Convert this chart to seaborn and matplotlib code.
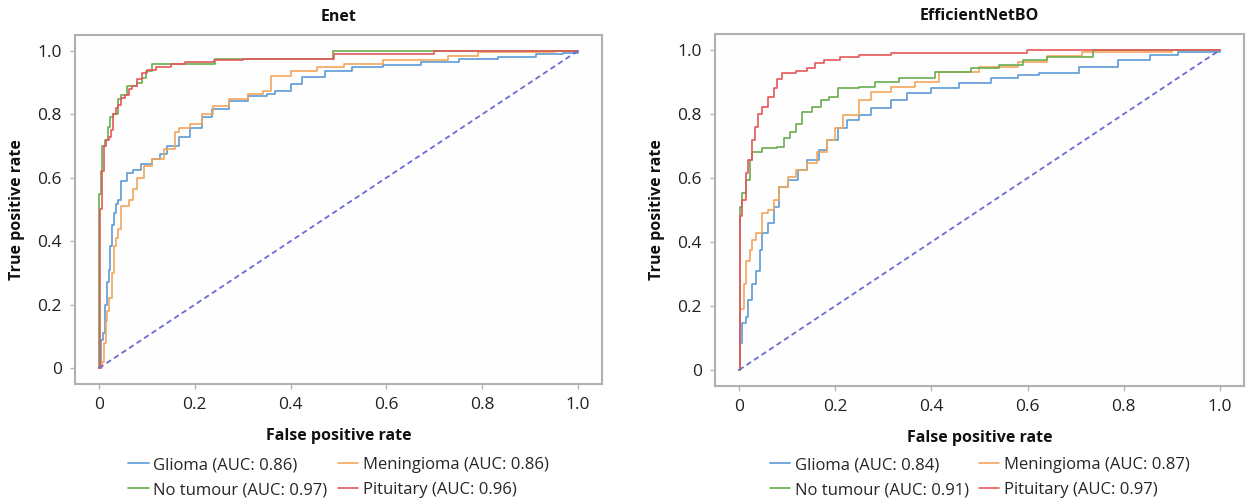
import matplotlib
matplotlib.use("Agg")
import matplotlib.pyplot as plt
import seaborn as sns

# ROC curves: (false positive rate, true positive rate) at the start of each plateau
# ---- Enet ----
enet_glioma_fpr = [0, 0.004, 0.008, 0.012, 0.017, 0.02, 0.023, 0.028, 0.031, 0.035, 0.039, 0.047, 0.059, 0.071,
                   0.087, 0.111, 0.127, 0.143, 0.167, 0.191, 0.215, 0.235, 0.271, 0.311, 0.351, 0.367, 0.40,
                   0.424, 0.472, 0.528, 0.592, 0.672, 0.752, 0.832, 0.912, 0.968, 1.0]
enet_glioma_tpr = [0, 0.09, 0.11, 0.2, 0.27, 0.31, 0.384, 0.45, 0.49, 0.516, 0.53, 0.59, 0.616, 0.625,
                   0.642, 0.658, 0.674, 0.70, 0.73, 0.758, 0.79, 0.816, 0.843, 0.859, 0.864, 0.874, 0.896,
                   0.917, 0.938, 0.948, 0.954, 0.964, 0.975, 0.98, 0.99, 0.994, 1.0]

enet_menin_fpr = [0, 0.006, 0.01, 0.014, 0.017, 0.022, 0.027, 0.031, 0.035, 0.039, 0.047, 0.063, 0.071, 0.079,
                  0.095, 0.111, 0.135, 0.159, 0.167, 0.191, 0.215, 0.239, 0.271, 0.311, 0.343, 0.359, 0.40,
                  0.456, 0.512, 0.592, 0.728, 0.792, 0.952, 1.0]
enet_menin_tpr = [0, 0.02, 0.08, 0.15, 0.18, 0.22, 0.3, 0.384, 0.41, 0.437, 0.51, 0.53, 0.563, 0.60,
                  0.637, 0.658, 0.69, 0.743, 0.758, 0.769, 0.80, 0.827, 0.848, 0.864, 0.874, 0.922, 0.938,
                  0.948, 0.959, 0.97, 0.985, 0.996, 1.0, 1.0]

enet_notum_fpr = [0, 0.001, 0.004, 0.007, 0.012, 0.019, 0.023, 0.03, 0.039, 0.047, 0.059, 0.07, 0.079, 0.09,
                  0.099, 0.111, 0.243, 0.488, 1.0]
enet_notum_tpr = [0, 0.55, 0.62, 0.70, 0.72, 0.76, 0.79, 0.80, 0.848, 0.86, 0.888, 0.89, 0.90, 0.915,
                  0.935, 0.96, 0.975, 1.0, 1.0]

enet_pitu_fpr = [0, 0.003, 0.006, 0.01, 0.015, 0.02, 0.025, 0.03, 0.035, 0.04, 0.047, 0.055, 0.062, 0.07,
                 0.079, 0.09, 0.1, 0.12, 0.15, 0.18, 0.24, 0.3, 0.49, 0.7, 1.0]
enet_pitu_tpr = [0, 0.5, 0.62, 0.70, 0.72, 0.73, 0.75, 0.80, 0.82, 0.83, 0.85, 0.86, 0.88, 0.89,
                 0.91, 0.93, 0.94, 0.95, 0.96, 0.965, 0.97, 0.975, 0.99, 1.0, 1.0]

# ---- EfficientNetBO ----
eff_glioma_fpr = [0, 0.002, 0.006, 0.014, 0.018, 0.027, 0.035, 0.043, 0.047, 0.06, 0.072, 0.084, 0.101, 0.122,
                  0.142, 0.167, 0.184, 0.205, 0.225, 0.25, 0.275, 0.316, 0.349, 0.399, 0.457, 0.523, 0.581,
                  0.623, 0.706, 0.788, 0.855, 0.913, 1.0]
eff_glioma_tpr = [0, 0.083, 0.146, 0.167, 0.219, 0.27, 0.31, 0.375, 0.427, 0.458, 0.51, 0.573, 0.594, 0.625,
                  0.656, 0.688, 0.719, 0.755, 0.78, 0.797, 0.818, 0.844, 0.865, 0.88, 0.896, 0.911, 0.922,
                  0.927, 0.948, 0.969, 0.984, 0.995, 1.0]

eff_menin_fpr = [0, 0.002, 0.01, 0.014, 0.022, 0.027, 0.035, 0.047, 0.06, 0.072, 0.084, 0.101, 0.118, 0.142,
                 0.163, 0.184, 0.2, 0.217, 0.25, 0.275, 0.316, 0.366, 0.416, 0.5, 0.581, 0.64, 0.714, 0.9, 1.0]
eff_menin_tpr = [0, 0.19, 0.27, 0.34, 0.375, 0.406, 0.427, 0.49, 0.5, 0.53, 0.573, 0.604, 0.625, 0.646,
                 0.68, 0.719, 0.755, 0.797, 0.844, 0.87, 0.885, 0.90, 0.932, 0.948, 0.964, 0.98, 0.995, 1.0, 1.0]

eff_notum_fpr = [0, 0.002, 0.006, 0.014, 0.022, 0.027, 0.047, 0.08, 0.093, 0.105, 0.118, 0.13, 0.151, 0.171,
                 0.188, 0.205, 0.25, 0.283, 0.333, 0.407, 0.482, 0.54, 0.59, 0.64, 0.735, 1.0]
eff_notum_tpr = [0, 0.51, 0.552, 0.594, 0.656, 0.68, 0.693, 0.698, 0.724, 0.745, 0.77, 0.807, 0.823, 0.844,
                 0.854, 0.88, 0.883, 0.90, 0.911, 0.932, 0.943, 0.953, 0.969, 0.977, 1.0, 1.0]

eff_pitu_fpr = [0, 0.002, 0.006, 0.014, 0.018, 0.027, 0.033, 0.039, 0.047, 0.06, 0.072, 0.08, 0.089, 0.118,
                0.142, 0.159, 0.176, 0.209, 0.25, 0.316, 0.598, 1.0]
eff_pitu_tpr = [0, 0.48, 0.53, 0.615, 0.656, 0.72, 0.76, 0.80, 0.823, 0.854, 0.88, 0.91, 0.927, 0.935,
                0.943, 0.958, 0.969, 0.977, 0.984, 0.992, 1.0, 1.0]

chance_fpr = [0, 1]
chance_tpr = [0, 1]

panel_titles = ["Enet", "EfficientNetBO"]
class_names = ["Glioma", "Meningioma", "No tumour", "Pituitary"]
auc_enet = [0.86, 0.86, 0.97, 0.96]
auc_eff = [0.84, 0.87, 0.91, 0.97]
tick_values = [0, 0.2, 0.4, 0.6, 0.8, 1.0]
tick_labels = ["0", "0.2", "0.4", "0.6", "0.8", "1.0"]

class_colors = ["#5b9bd5", "#f2a65a", "#6aad4f", "#e5575a"]
chance_color = "#6b6bd6"

sns.set_theme(style="white")
plt.rcParams["font.family"] = ["Open Sans", "DejaVu Sans"]

fig = plt.figure(figsize=(12.46, 5.04), dpi=100)
ax_left = fig.add_axes([0.0602, 0.2381, 0.4229, 0.6925])
ax_right = fig.add_axes([0.5738, 0.2341, 0.4246, 0.6984])

panels = [
    (ax_left, panel_titles[0], auc_enet,
     [(enet_glioma_fpr, enet_glioma_tpr), (enet_menin_fpr, enet_menin_tpr),
      (enet_notum_fpr, enet_notum_tpr), (enet_pitu_fpr, enet_pitu_tpr)]),
    (ax_right, panel_titles[1], auc_eff,
     [(eff_glioma_fpr, eff_glioma_tpr), (eff_menin_fpr, eff_menin_tpr),
      (eff_notum_fpr, eff_notum_tpr), (eff_pitu_fpr, eff_pitu_tpr)]),
]

for ax, title, aucs, curves in panels:
    for name, auc, color, (fpr, tpr) in zip(class_names, aucs, class_colors, curves):
        sns.lineplot(x=fpr, y=tpr, ax=ax, color=color, linewidth=1.2,
                     estimator=None, sort=False, drawstyle="steps-post",
                     label=f"{name} (AUC: {auc:.2f})")
    sns.lineplot(x=chance_fpr, y=chance_tpr, ax=ax, color=chance_color, linewidth=1.3,
                 linestyle=(0, (3, 2)), estimator=None, sort=False)

    ax.set_xlim(-0.05, 1.05)
    ax.set_ylim(-0.05, 1.05)
    ax.set_xticks(tick_values)
    ax.set_xticklabels(tick_labels)
    ax.set_yticks(tick_values)
    ax.set_yticklabels(tick_labels)
    ax.tick_params(axis="both", which="major", length=3.5, width=1.0, color="#b5b5b5",
                   pad=6, labelsize=12.5, labelcolor="#222222", direction="out",
                   bottom=True, left=True)
    for side in ["left", "right", "top", "bottom"]:
        ax.spines[side].set_visible(True)
        ax.spines[side].set_color("#b0b0b0")
        ax.spines[side].set_linewidth(1.5)
    ax.set_facecolor("#fefefe")

    ax.set_title(title, fontsize=11.5, fontweight="bold", pad=10, color="#111111")
    ax.set_xlabel("False positive rate", fontsize=11.5, fontweight="bold", labelpad=11, color="#111111")
    ax.set_ylabel("True positive rate", fontsize=11.5, fontweight="bold", labelpad=9, color="#111111")

    h, l = ax.get_legend_handles_labels()
    order = [0, 2, 1, 3]
    box = ax.get_position()
    ax.legend([h[i] for i in order], [l[i] for i in order], ncol=2, frameon=False,
              loc="upper center", bbox_to_anchor=((box.x0 + box.x1) / 2, 0.093),
              bbox_transform=fig.transFigure, fontsize=12, handlelength=1.25,
              handletextpad=0.25, columnspacing=0.6, labelspacing=0.55, borderpad=0,
              borderaxespad=0)

fig.savefig("out.png", dpi=100, facecolor="white")
